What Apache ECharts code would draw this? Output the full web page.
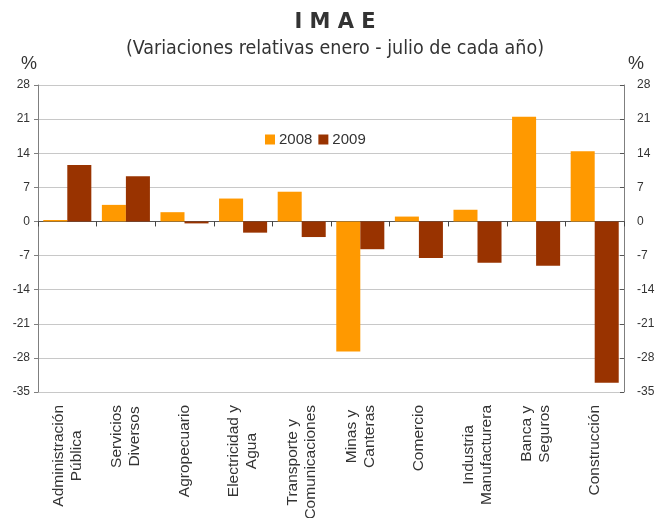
<!DOCTYPE html>
<html>
<head>
<meta charset="utf-8">
<script src="https://cdn.jsdelivr.net/npm/echarts@6/dist/echarts.min.js"></script>
<style>html,body{margin:0;padding:0;background:#fff}#c{width:658px;height:518px}</style>
</head>
<body>
<div id="c"></div>
<script>
const categories = ['Administración\nPública', 'Servicios\nDiversos', 'Agropecuario', 'Electricidad y\nAgua', 'Transporte y\nComunicaciones', 'Minas y\nCanteras', 'Comercio', 'Industria\nManufacturera', 'Banca y\nSeguros', 'Construcción'];
const v2008 = [0.3, 3.4, 1.9, 4.7, 6.1, -26.7, 1.0, 2.4, 21.5, 14.4];
const v2009 = [11.6, 9.3, -0.4, -2.3, -3.2, -5.7, -7.5, -8.5, -9.1, -33.1];
const seriesNames = ['2008', '2009'];
const yMin = -35, yMax = 28, yStep = 7;

const chart = echarts.init(document.getElementById('c'));
const FONT = 'Liberation Sans';
const yAxisBase = {
  type: 'value', min: yMin, max: yMax, interval: yStep,
  axisLine: {show: true, onZero: false, lineStyle: {color: '#7f7f7f', width: 1}},
  splitLine: {show: true, lineStyle: {color: '#c8c8c8', width: 1}},
  axisLabel: {color: '#333', fontFamily: FONT, fontSize: 12}
};
chart.setOption({
  animation: false,
  backgroundColor: '#fff',
  graphic: [
    {type: 'text', x: 335, y: 12, style: {text: 'I M A E', align: 'center', font: 'bold 21px "DejaVu Sans"', fill: '#333'}},
    {type: 'text', x: 335, y: 39, style: {text: '(Variaciones relativas enero - julio de cada año)', align: 'center', font: '19.5px "DejaVu Sans Condensed", "DejaVu Sans"', fill: '#333'}},
    {type: 'text', left: 21, top: 55, style: {text: '%', font: '18px "Liberation Sans"', fill: '#333'}},
    {type: 'text', left: 628, top: 55, style: {text: '%', font: '18px "Liberation Sans"', fill: '#333'}}
  ],
  legend: {
    left: 260, top: 127, itemWidth: 10, itemHeight: 10, itemGap: 6,
    icon: 'rect',
    textStyle: {fontFamily: FONT, fontSize: 15, color: '#333', padding: [0, 0, 0, -1]},
    data: seriesNames
  },
  grid: {left: 38, right: 34, top: 85, bottom: 126, containLabel: false, outerBoundsMode: 'none'},
  xAxis: [
    {
      type: 'category', data: categories, position: 'bottom',
      axisLine: {show: false, onZero: false}, axisTick: {show: false},
      axisLabel: {
        interval: 0, rotate: 90, margin: 13,
        formatter: function (v) { return v.split('\n').map(s => '{c|' + s + '}').join('\n'); },
        rich: {c: {align: 'center', fontFamily: FONT, fontSize: 15.5, lineHeight: 18, color: '#333'}}
      }
    },
    {
      type: 'category', data: categories, position: 'bottom',
      axisLine: {show: true, onZero: true, lineStyle: {color: '#555', width: 1}},
      axisTick: {show: true, interval: 0, length: 5, lineStyle: {color: '#444', width: 1}},
      axisLabel: {show: false}, splitLine: {show: false}
    }
  ],
  yAxis: [
    Object.assign({}, yAxisBase, {position: 'left',
      axisTick: {show: true, length: 4, lineStyle: {color: '#7f7f7f'}},
      axisLabel: Object.assign({}, yAxisBase.axisLabel, {margin: 8})}),
    Object.assign({}, yAxisBase, {position: 'right',
      axisTick: {show: true, inside: true, length: 4, lineStyle: {color: '#555'}},
      axisLabel: Object.assign({}, yAxisBase.axisLabel, {margin: 13})})
  ],
  series: [
    {name: seriesNames[0], type: 'bar', data: v2008, xAxisIndex: 0, yAxisIndex: 0,
     itemStyle: {color: '#FF9900'}, barGap: '0%', barCategoryGap: '18%'},
    {name: seriesNames[1], type: 'bar', data: v2009, xAxisIndex: 0, yAxisIndex: 0,
     itemStyle: {color: '#993300'}, barGap: '0%', barCategoryGap: '18%'}
  ]
});
</script>
</body>
</html>
